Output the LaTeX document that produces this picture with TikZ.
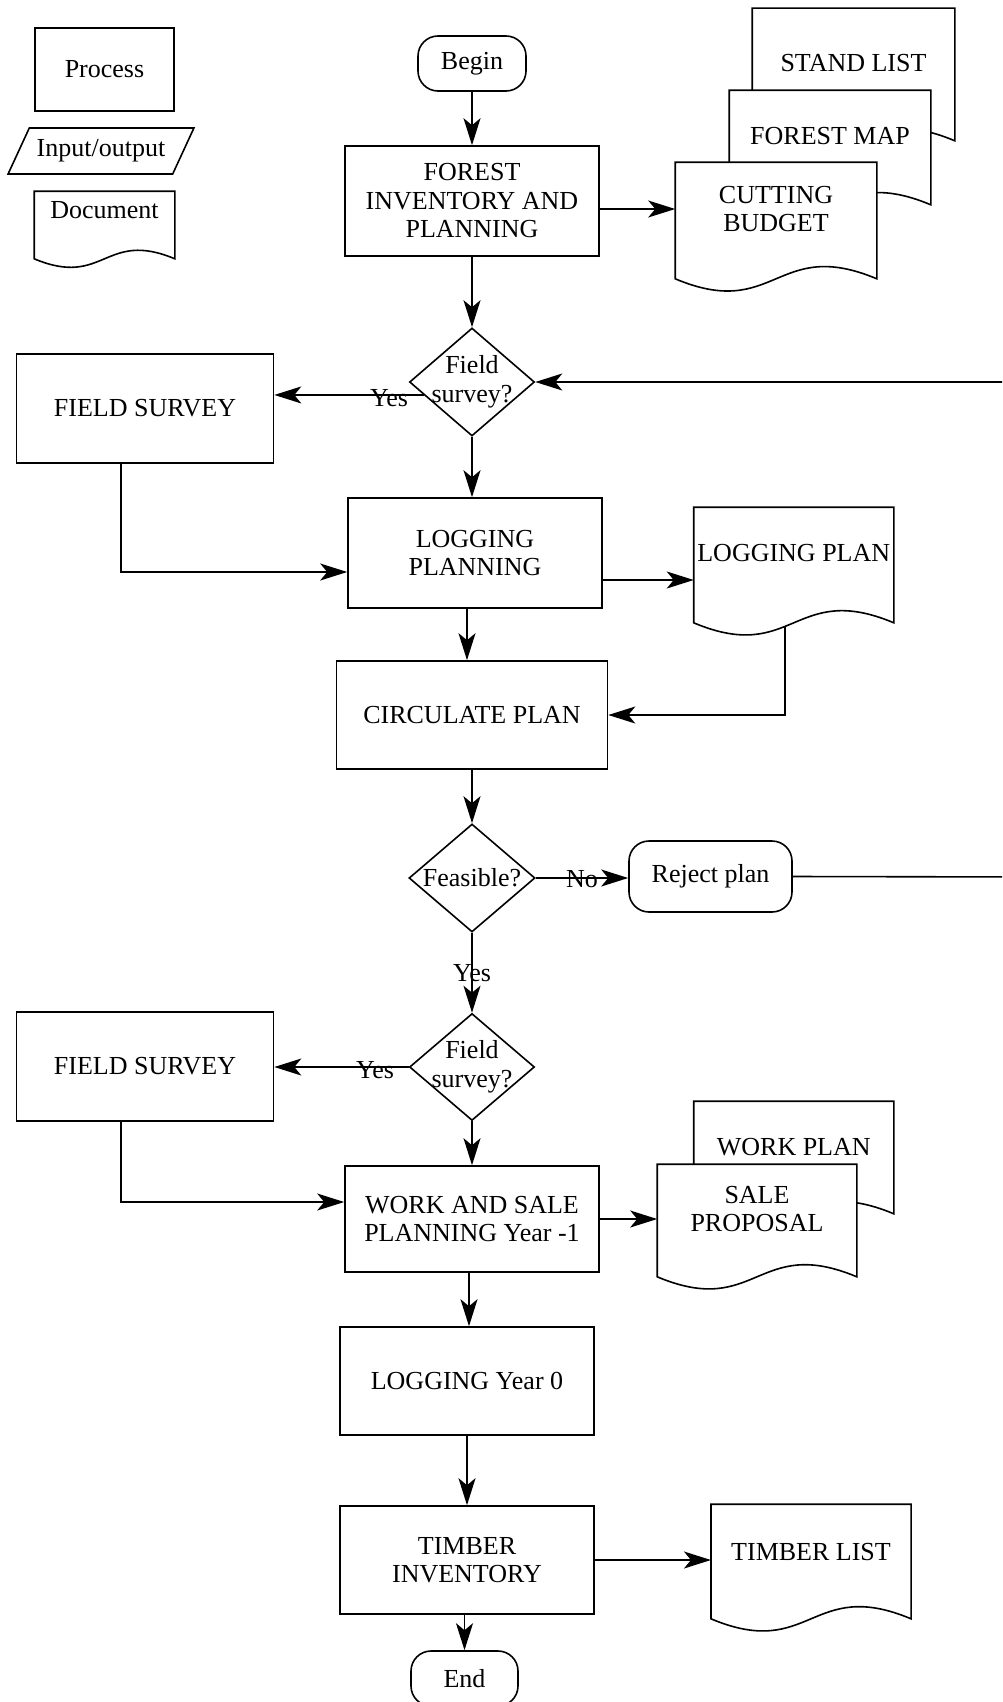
\documentclass[tikz,border=0pt]{standalone}
\usepackage{fontspec}
\setmainfont{Liberation Serif}
\usetikzlibrary{arrows.meta,shapes.geometric}

% Document symbol: rectangle whose bottom edge is a wave
\makeatletter
\pgfdeclareshape{paperdoc}{%
  \inheritsavedanchors[from=rectangle]%
  \inheritanchorborder[from=rectangle]%
  \inheritanchor[from=rectangle]{center}%
  \inheritanchor[from=rectangle]{north}%
  \inheritanchor[from=rectangle]{south}%
  \inheritanchor[from=rectangle]{east}%
  \inheritanchor[from=rectangle]{west}%
  \inheritanchor[from=rectangle]{north east}%
  \inheritanchor[from=rectangle]{north west}%
  \inheritanchor[from=rectangle]{south east}%
  \inheritanchor[from=rectangle]{south west}%
  \inheritanchor[from=rectangle]{text}%
  \inheritanchor[from=rectangle]{base}%
  \inheritanchor[from=rectangle]{mid}%
  \backgroundpath{%
    \southwest \edef\pd@xl{\the\pgf@x}\edef\pd@yl{\the\pgf@y}%
    \northeast \edef\pd@xr{\the\pgf@x}\edef\pd@yt{\the\pgf@y}%
    \pgfmathsetmacro\pd@xm{(\pd@xl+\pd@xr)/2}%
    \pgfmathsetmacro\pd@amp{0.21*(\pd@xr-\pd@xl)}%
    \pgfpathmoveto{\pgfpoint{\pd@xl}{\pd@yl}}%
    \pgfpathlineto{\pgfpoint{\pd@xl}{\pd@yt}}%
    \pgfpathlineto{\pgfpoint{\pd@xr}{\pd@yt}}%
    \pgfpathlineto{\pgfpoint{\pd@xr}{\pd@yl}}%
    \pgfpathcurveto{\pgfpoint{\pd@xm pt}{\pd@yl+\pd@amp pt}}%
                   {\pgfpoint{\pd@xm pt}{\pd@yl-\pd@amp pt}}%
                   {\pgfpoint{\pd@xl}{\pd@yl}}%
    \pgfpathclose
  }%
}
\makeatother

\tikzset{
  box/.style={draw, rectangle, inner sep=2pt, align=center},
  term/.style={draw, rectangle, rounded corners=20pt, align=center},
  decide/.style={draw, diamond, inner sep=0pt},
  doc/.style={draw, fill=white, paperdoc, inner sep=0pt},
  arr/.style={-{Stealth[length=27pt,width=17pt,inset=7pt]}},
}

\begin{document}
\begin{tikzpicture}[x=1pt, y=-1pt, line width=1.6pt,
  font=\fontsize{26pt}{28.5pt}\selectfont]
\useasboundingbox (0,0) rectangle (1002,1702);
\clip (0,0) rectangle (1002,1702);

% legend
\node[box, minimum width=139pt, minimum height=83pt] (lgproc) at (104.5,69.5) {Process};
\node[draw, trapezium, trapezium left angle=50, trapezium right angle=130,
      trapezium stretches=true, minimum width=186pt, minimum height=46pt,
      inner sep=0pt] (lgio) at (101,151) {Input/output};
\node[doc, minimum width=139pt, minimum height=66pt,
      label={[name=lgdoc-t, yshift=15pt]center:Document}] (lgdoc) at (104.5,225) {};

% main column
\node[term, minimum width=108pt, minimum height=55pt] (begin) at (472,63.5) {Begin};
\node[box, minimum width=254pt, minimum height=110pt] (fip) at (472,201)
  {FOREST\\INVENTORY AND\\PLANNING};

% document stack
\node[doc, minimum width=201pt, minimum height=131pt,
      label={[name=sl-t, yshift=11.5pt]center:STAND LIST}] (sl) at (853.5,74.5) {};
\node[doc, minimum width=200pt, minimum height=113pt,
      label={[name=fm-t, yshift=11.5pt]center:FOREST MAP}] (fm) at (830,147.5) {};
\node[doc, minimum width=200pt, minimum height=115pt,
      label={[name=cb-t, yshift=11.5pt, align=center]center:CUTTING\\BUDGET}] (cb) at (776,220.5) {};

\node[decide, minimum width=125pt, minimum height=108pt,
      label={[name=d1-t, align=center]center:Field\\survey?}] (d1) at (472,382) {};
\node[box, minimum width=257pt, minimum height=109pt] (fs1) at (145,408.5) {FIELD SURVEY};

\node[box, minimum width=254pt, minimum height=110pt] (lgp) at (475,553) {LOGGING\\PLANNING};
\node[doc, minimum width=198.5pt, minimum height=114pt,
      label={[name=lp-t, yshift=12pt]center:LOGGING PLAN}] (lp) at (793.75,565) {};
\node[box, minimum width=271pt, minimum height=108pt] (cip) at (472,715) {CIRCULATE PLAN};

\node[decide, minimum width=126pt, minimum height=108pt,
      label={[name=d2-t]center:Feasible?}] (d2) at (472,878) {};
\node[term, minimum width=163pt, minimum height=71pt] (rp) at (710.5,876.5) {Reject plan};

\node[decide, minimum width=125pt, minimum height=107pt,
      label={[name=d3-t, align=center]center:Field\\survey?}] (d3) at (472,1067) {};
\node[box, minimum width=257pt, minimum height=109pt] (fs2) at (145,1066.5) {FIELD SURVEY};

\node[box, minimum width=254pt, minimum height=106pt] (wsp) at (472,1219)
  {WORK AND SALE\\PLANNING Year -1};
\node[doc, minimum width=198.5pt, minimum height=111pt,
      label={[name=wp-t, yshift=10.5pt]center:WORK PLAN}] (wp) at (793.75,1157.5) {};
\node[doc, minimum width=198pt, minimum height=111pt,
      label={[name=sp-t, yshift=11.5pt, align=center]center:SALE\\PROPOSAL}] (sp) at (757,1220.5) {};

\node[box, minimum width=254pt, minimum height=108pt] (ly0) at (467,1381) {LOGGING Year 0};
\node[box, minimum width=254pt, minimum height=108pt] (ti) at (467,1560) {TIMBER\\INVENTORY};
\node[doc, minimum width=198.5pt, minimum height=113pt,
      label={[name=tl-t, yshift=9.5pt]center:TIMBER LIST}] (tl) at (811,1561.5) {};
\node[term, minimum width=107pt, minimum height=55pt] (end) at (464.5,1678.5) {End};

% return path from the rejection, running beyond the right edge
\coordinate (loop) at (1040,877);

% connectors
\draw[arr] (begin.south) -- (begin.south |- fip.north);
\draw[arr] ([yshift=-8pt]fip.east) -- ([yshift=-8pt]fip.east -| cb.west);
\draw[arr] (fip.south) -- (fip.south |- d1.north);
\draw[arr] (d1.195) -- (d1.195 -| fs1.east);
\node (yes1) at (389,398) {Yes};
\draw[arr] (rp.east) -- (loop) |- (d1.east);
\draw[arr] (d1.south) -- (d1.south |- lgp.north);
\draw[arr] ([xshift=-24pt]fs1.south) |- ([yshift=-19pt]lgp.west);
\draw[arr] ([yshift=-27pt]lgp.east) -- ([yshift=-27pt]lgp.east -| lp.west);
\draw[arr] ([xshift=-8pt]lgp.south) -- ([xshift=-8pt]lgp.south |- cip.north);
\draw[arr] ([xshift=-9pt,yshift=-3pt]lp.south) |- (cip.east);
\draw[arr] (cip.south) -- (cip.south |- d2.north);
\draw[arr] (d2.east) -- (d2.east -| rp.west);
\node (no) at (582,879) {No};
\draw[arr] (d2.south) -- (d3.north);
\node (yes2) at (472,973) {Yes};
\draw[arr] (d3.west) -- (d3.west -| fs2.east);
\node (yes3) at (375,1070) {Yes};
\draw[arr] (d3.south) -- (d3.south |- wsp.north);
\draw[arr] ([xshift=-24pt]fs2.south) |- ([yshift=17pt]wsp.west);
\draw[arr] (wsp.east) -- (wsp.east -| sp.west);
\draw[arr] ([xshift=-3pt]wsp.south) -- ([xshift=-3pt]wsp.south |- ly0.north);
\draw[arr] (ly0.south) -- (ly0.south |- ti.north);
\draw[arr] (ti.east) -- (ti.east -| tl.west);
\draw[arr] (end.north |- ti.south) -- (end.north);
\end{tikzpicture}
\end{document}
